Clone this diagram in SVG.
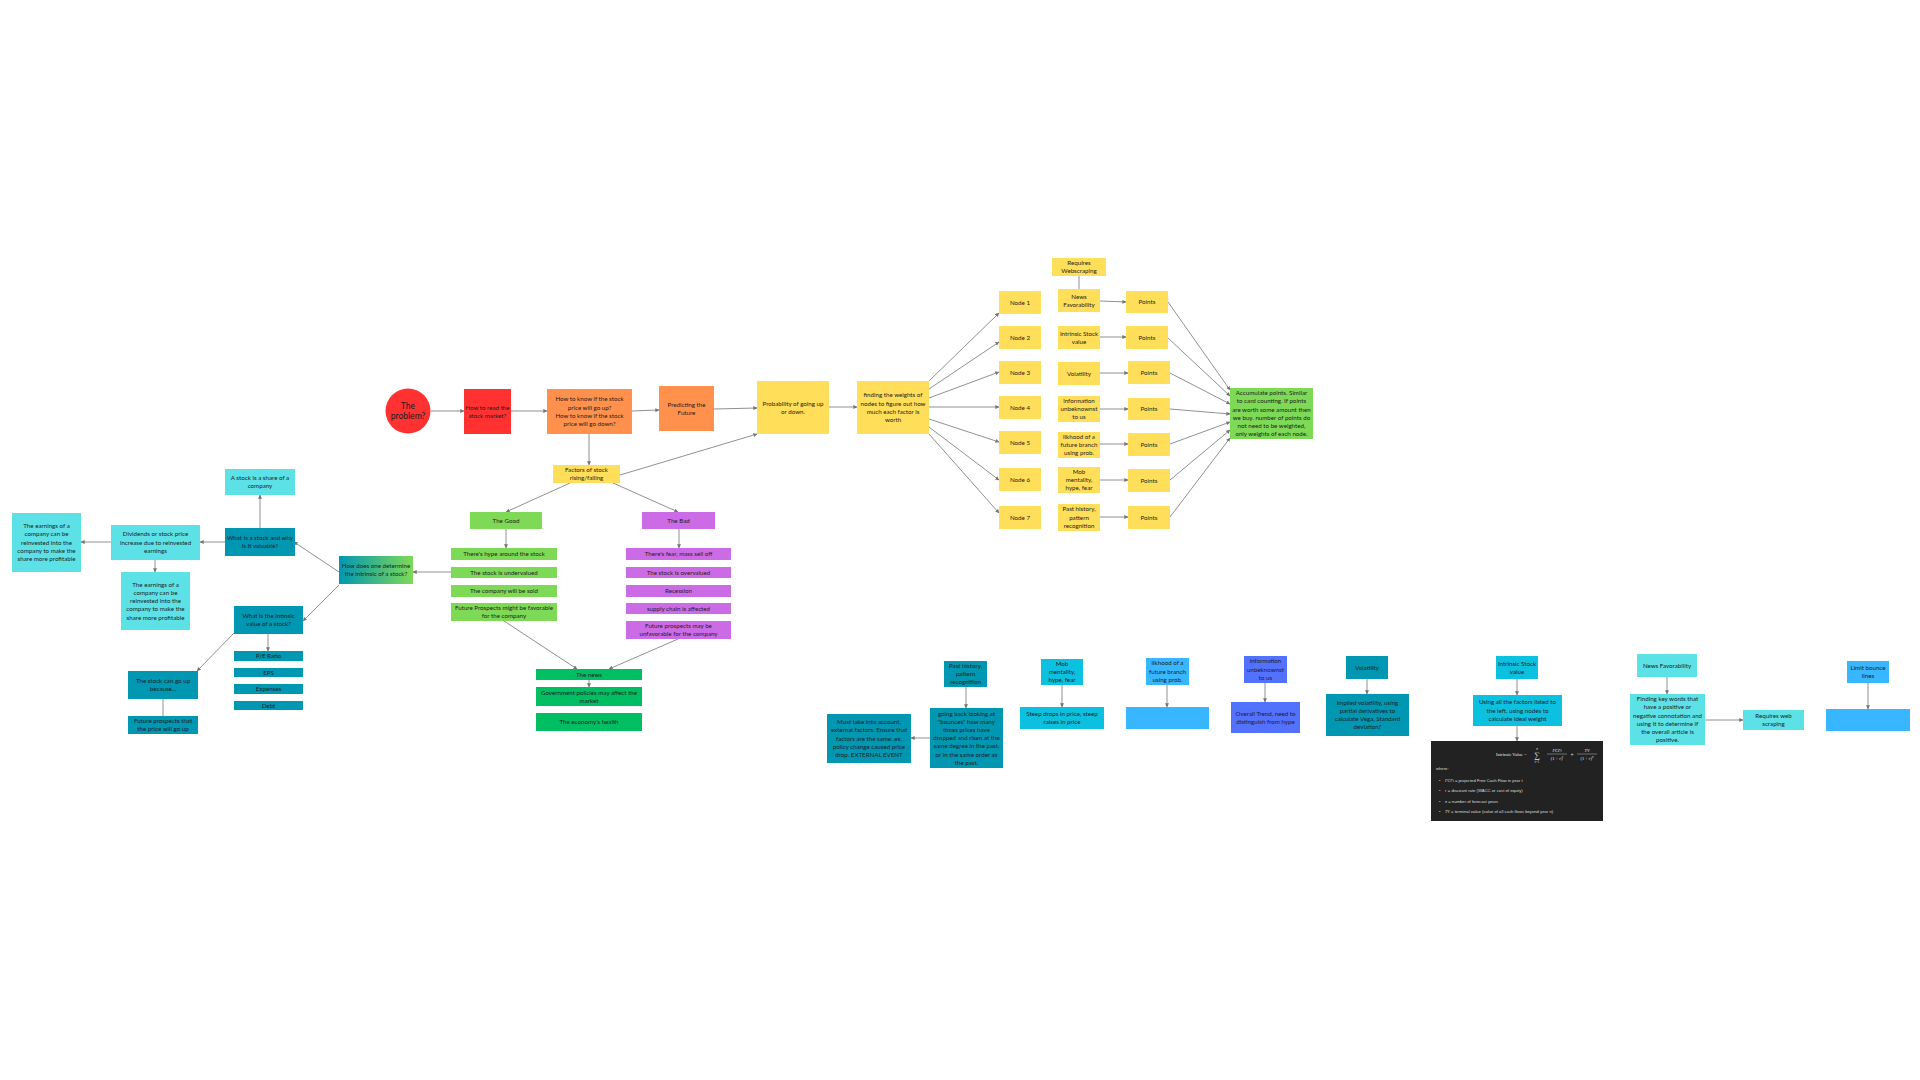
<svg xmlns="http://www.w3.org/2000/svg" width="1920" height="1080" viewBox="0 0 1920 1080">
<defs>
<style>
.t{font-family:Lato,"Open Sans","DejaVu Sans",sans-serif;font-size:6.2px;fill:#1d1d1d;text-anchor:middle}
.big{font-size:8.6px}
.c{stroke:#747474;stroke-width:0.8;fill:none}
.a{marker-end:url(#ah)}
.red{fill:#ff3131}.org{fill:#ff914d}.yel{fill:#ffde59}.grn{fill:#7ed957}.pur{fill:#cb6ce6}
.dg{fill:#00bf63}.lc{fill:#5ce1e6}.dt{fill:#0097b2}.cy{fill:#0cc0df}.bl{fill:#38b6ff}.ind{fill:#5271ff}
.m{font-family:"Liberation Serif","DejaVu Serif",serif;fill:#e6e6e6}
.w{font-family:"Liberation Sans",Arial,sans-serif;font-size:4.2px;fill:#dcdcdc}
</style>
<marker id="ah" viewBox="0 0 6 6" refX="5.5" refY="3" markerWidth="4" markerHeight="4" orient="auto" markerUnits="userSpaceOnUse">
<path d="M0,0 L6,3 L0,6 z" fill="#747474"/>
</marker>
<linearGradient id="gr" x1="0" y1="0" x2="1" y2="0">
<stop offset="0" stop-color="#0097b2"/><stop offset="1" stop-color="#7ed957"/>
</linearGradient>
</defs>
<rect width="1920" height="1080" fill="#ffffff"/>

<g id="connectors">
<line class="c a" x1="260" y1="528" x2="260" y2="495"/>
<line class="c a" x1="225" y1="542" x2="200" y2="542"/>
<line class="c a" x1="111" y1="542" x2="81" y2="542"/>
<line class="c a" x1="155" y1="560" x2="155" y2="572"/>
<line class="c a" x1="339" y1="572" x2="294" y2="542"/>
<line class="c a" x1="339" y1="585" x2="303" y2="621"/>
<line class="c a" x1="268" y1="634" x2="268" y2="651"/>
<line class="c a" x1="234" y1="633" x2="197" y2="671"/>
<line class="c" x1="163" y1="699" x2="163" y2="716" stroke-width="1.2"/>
<line class="c a" x1="451" y1="572" x2="413" y2="572"/>
<line class="c a" x1="589" y1="434" x2="589" y2="465"/>
<line class="c a" x1="570" y1="483" x2="506" y2="512"/>
<line class="c a" x1="613" y1="483" x2="678" y2="512"/>
<line class="c a" x1="506" y1="529" x2="506" y2="548"/>
<line class="c a" x1="679" y1="529" x2="679" y2="548"/>
<line class="c a" x1="504" y1="621" x2="577" y2="669"/>
<line class="c a" x1="678" y1="639" x2="609" y2="669"/>
<line class="c a" x1="589" y1="680" x2="589" y2="687"/>
<line class="c a" x1="620" y1="475" x2="757" y2="434"/>
<line class="c a" x1="431" y1="411" x2="464" y2="411"/>
<line class="c a" x1="511" y1="411" x2="547" y2="411"/>
<line class="c a" x1="632" y1="411" x2="659" y2="410"/>
<line class="c a" x1="714" y1="409" x2="757" y2="408"/>
<line class="c a" x1="829" y1="407" x2="857" y2="407"/>
<line class="c a" x1="929" y1="381" x2="999" y2="313"/>
<line class="c a" x1="929" y1="389" x2="999" y2="342"/>
<line class="c a" x1="929" y1="398" x2="999" y2="372"/>
<line class="c a" x1="929" y1="407" x2="999" y2="407"/>
<line class="c a" x1="929" y1="419" x2="999" y2="442"/>
<line class="c a" x1="929" y1="427" x2="999" y2="480"/>
<line class="c a" x1="929" y1="434" x2="999" y2="513"/>
<line class="c" x1="1079" y1="289" x2="1079" y2="276"/>
<line class="c a" x1="1100" y1="301" x2="1126" y2="302"/>
<line class="c a" x1="1100" y1="337" x2="1126" y2="337"/>
<line class="c a" x1="1100" y1="373" x2="1128" y2="373"/>
<line class="c a" x1="1100" y1="409" x2="1128" y2="409"/>
<line class="c a" x1="1100" y1="444" x2="1128" y2="444"/>
<line class="c a" x1="1100" y1="480" x2="1128" y2="480"/>
<line class="c a" x1="1100" y1="517" x2="1128" y2="517"/>
<line class="c a" x1="1168" y1="302" x2="1230" y2="390"/>
<line class="c a" x1="1168" y1="338" x2="1230" y2="396"/>
<line class="c a" x1="1170" y1="373" x2="1230" y2="404"/>
<line class="c a" x1="1170" y1="409" x2="1230" y2="414"/>
<line class="c a" x1="1170" y1="444" x2="1230" y2="422"/>
<line class="c a" x1="1170" y1="480" x2="1230" y2="430"/>
<line class="c a" x1="1170" y1="517" x2="1230" y2="438"/>
<line class="c a" x1="966" y1="687" x2="966" y2="708"/>
<line class="c a" x1="930" y1="738" x2="911" y2="738"/>
<line class="c a" x1="1062" y1="685" x2="1062" y2="707"/>
<line class="c a" x1="1167" y1="685" x2="1167" y2="707"/>
<line class="c a" x1="1265" y1="683" x2="1265" y2="702"/>
<line class="c a" x1="1367" y1="679" x2="1367" y2="694"/>
<line class="c a" x1="1517" y1="679" x2="1517" y2="695"/>
<line class="c a" x1="1517" y1="726" x2="1517" y2="741"/>
<line class="c a" x1="1667" y1="677" x2="1667" y2="694"/>
<line class="c a" x1="1705" y1="720" x2="1743" y2="720"/>
<line class="c a" x1="1868" y1="683" x2="1868" y2="709"/>
</g>

<!-- Left cluster -->
<g id="share"><rect class="lc" x="225" y="469" width="70" height="26"/><text class="t" y="480"><tspan x="260">A stock is a share of a</tspan><tspan x="260" dy="8.2">company</tspan></text></g>
<g id="whatstock"><rect class="dt" x="225" y="528" width="70" height="28"/><text class="t" y="540"><tspan x="260">What is a stock and why</tspan><tspan x="260" dy="8.2">is it valuable?</tspan></text></g>
<g id="dividends"><rect class="lc" x="111" y="525" width="89" height="35"/><text class="t" y="536.4"><tspan x="155.5">Dividends or stock price</tspan><tspan x="155.5" dy="8.2">increase due to reinvested</tspan><tspan x="155.5" dy="8.2">earnings</tspan></text></g>
<g id="earnings1"><rect class="lc" x="12" y="513" width="69" height="59"/><text class="t" y="528.2"><tspan x="46.5">The earnings of a</tspan><tspan x="46.5" dy="8.2">company can be</tspan><tspan x="46.5" dy="8.2">reinvested into the</tspan><tspan x="46.5" dy="8.2">company to make the</tspan><tspan x="46.5" dy="8.2">share more profitable</tspan></text></g>
<g id="earnings2"><rect class="lc" x="121" y="572" width="69" height="58"/><text class="t" y="586.7"><tspan x="155.5">The earnings of a</tspan><tspan x="155.5" dy="8.2">company can be</tspan><tspan x="155.5" dy="8.2">reinvested into the</tspan><tspan x="155.5" dy="8.2">company to make the</tspan><tspan x="155.5" dy="8.2">share more profitable</tspan></text></g>
<g id="howdoes"><rect x="339" y="556" width="74" height="28" fill="url(#gr)"/><text class="t" y="568"><tspan x="376">How does one determine</tspan><tspan x="376" dy="8.2">the intrinsic of a stock?</tspan></text></g>
<g id="whatintrinsic"><rect class="dt" x="234" y="606" width="69" height="28"/><text class="t" y="618"><tspan x="268.5">What is the intinsic</tspan><tspan x="268.5" dy="8.2">value of a stock?</tspan></text></g>
<g id="pe"><rect class="dt" x="234" y="651" width="69" height="10"/><text class="t" x="268.5" y="658.1">P/E Ratio</text></g>
<g id="eps"><rect class="dt" x="234" y="668" width="69" height="9"/><text class="t" x="268.5" y="674.6">EPS</text></g>
<g id="expenses"><rect class="dt" x="234" y="684" width="69" height="10"/><text class="t" x="268.5" y="691.1">Expenses</text></g>
<g id="debt"><rect class="dt" x="234" y="701" width="69" height="9"/><text class="t" x="268.5" y="707.6">Debt</text></g>
<g id="cangoup"><rect class="dt" x="128" y="671" width="70" height="28"/><text class="t" y="683"><tspan x="163">The stock can go up</tspan><tspan x="163" dy="8.2">because...</tspan></text></g>
<g id="futureup"><rect class="dt" x="128" y="716" width="70" height="18"/><text class="t" y="723"><tspan x="163">Future prospects that</tspan><tspan x="163" dy="8.2">the price will go up</tspan></text></g>

<!-- Top chain -->
<g id="problem"><circle class="red" cx="408" cy="411" r="22.5"/><text class="t big" y="409"><tspan x="408">The</tspan><tspan x="408" dy="10">problem?</tspan></text></g>
<g id="read"><rect class="red" x="464" y="389" width="47" height="45"/><text class="t" y="409.5"><tspan x="487.5">How to read the</tspan><tspan x="487.5" dy="8.2">stock market?</tspan></text></g>
<g id="howknow"><rect class="org" x="547" y="389" width="85" height="45"/><text class="t" y="401.3"><tspan x="589.5">How to know if the stock</tspan><tspan x="589.5" dy="8.2">price will go up?</tspan><tspan x="589.5" dy="8.2">How to know if the stock</tspan><tspan x="589.5" dy="8.2">price will go down?</tspan></text></g>
<g id="predicting"><rect class="org" x="659" y="386" width="55" height="45"/><text class="t" y="406.5"><tspan x="686.5">Predicting the</tspan><tspan x="686.5" dy="8.2">Future</tspan></text></g>
<g id="probability"><rect class="yel" x="757" y="381" width="72" height="53"/><text class="t" y="405.5"><tspan x="793">Probability of going up</tspan><tspan x="793" dy="8.2">or down.</tspan></text></g>
<g id="weights"><rect class="yel" x="857" y="381" width="72" height="53"/><text class="t" y="397.3"><tspan x="893">finding the weights of</tspan><tspan x="893" dy="8.2">nodes to figure out how</tspan><tspan x="893" dy="8.2">much each factor is</tspan><tspan x="893" dy="8.2">worth</tspan></text></g>
<g id="factors"><rect class="yel" x="553" y="465" width="67" height="18"/><text class="t" y="472"><tspan x="586.5">Factors of stock</tspan><tspan x="586.5" dy="8.2">rising/falling</tspan></text></g>
<g id="good"><rect class="grn" x="470" y="512" width="72" height="17"/><text class="t" x="506" y="522.6">The Good</text></g>
<g id="bad"><rect class="pur" x="642" y="512" width="73" height="17"/><text class="t" x="678.5" y="522.6">The Bad</text></g>
<g id="good1"><rect class="grn" x="451" y="548" width="106" height="12"/><text class="t" x="504" y="556.1">There's hype around the stock</text></g>
<g id="good2"><rect class="grn" x="451" y="567" width="106" height="11"/><text class="t" x="504" y="574.6">The stock is undervalued</text></g>
<g id="good3"><rect class="grn" x="451" y="585" width="106" height="12"/><text class="t" x="504" y="593.1">The company will be sold</text></g>
<g id="good4"><rect class="grn" x="451" y="603" width="106" height="18"/><text class="t" y="610"><tspan x="504">Future Prospects might be favorable</tspan><tspan x="504" dy="8.2">for the company</tspan></text></g>
<g id="bad1"><rect class="pur" x="626" y="548" width="105" height="12"/><text class="t" x="678.5" y="556.1">There's fear, mass sell off</text></g>
<g id="bad2"><rect class="pur" x="626" y="567" width="105" height="11"/><text class="t" x="678.5" y="574.6">The stock is overvalued</text></g>
<g id="bad3"><rect class="pur" x="626" y="585" width="105" height="12"/><text class="t" x="678.5" y="593.1">Recession</text></g>
<g id="bad4"><rect class="pur" x="626" y="603" width="105" height="11"/><text class="t" x="678.5" y="610.6">supply chain is affected</text></g>
<g id="bad5"><rect class="pur" x="626" y="621" width="105" height="18"/><text class="t" y="628"><tspan x="678.5">Future prospects may be</tspan><tspan x="678.5" dy="8.2">unfavorable for the company</tspan></text></g>
<g id="news"><rect class="dg" x="536" y="669" width="106" height="11"/><text class="t" x="589" y="676.6">The news</text></g>
<g id="gov"><rect class="dg" x="536" y="687" width="106" height="19"/><text class="t" y="694.5"><tspan x="589">Government policies may affect the</tspan><tspan x="589" dy="8.2">market</tspan></text></g>
<g id="economy"><rect class="dg" x="536" y="713" width="106" height="18"/><text class="t" x="589" y="724.1">The economy's health</text></g>

<!-- Nodes -->
<g id="node1"><rect class="yel" x="999" y="291" width="42" height="23"/><text class="t" x="1020" y="304.6">Node 1</text></g>
<g id="node2"><rect class="yel" x="999" y="326" width="42" height="23"/><text class="t" x="1020" y="339.6">Node 2</text></g>
<g id="node3"><rect class="yel" x="999" y="361" width="42" height="23"/><text class="t" x="1020" y="374.6">Node 3</text></g>
<g id="node4"><rect class="yel" x="999" y="396" width="42" height="23"/><text class="t" x="1020" y="409.6">Node 4</text></g>
<g id="node5"><rect class="yel" x="999" y="431" width="42" height="23"/><text class="t" x="1020" y="444.6">Node 5</text></g>
<g id="node6"><rect class="yel" x="999" y="468" width="42" height="23"/><text class="t" x="1020" y="481.6">Node 6</text></g>
<g id="node7"><rect class="yel" x="999" y="506" width="42" height="23"/><text class="t" x="1020" y="519.6">Node 7</text></g>

<g id="webscraping"><rect class="yel" x="1052" y="258" width="54" height="18"/><text class="t" y="265"><tspan x="1079">Requires</tspan><tspan x="1079" dy="8.2">Webscraping</tspan></text></g>
<g id="f-news"><rect class="yel" x="1058" y="289" width="42" height="23"/><text class="t" y="298.5"><tspan x="1079">News</tspan><tspan x="1079" dy="8.2">Favorability</tspan></text></g>
<g id="f-intrinsic"><rect class="yel" x="1058" y="326" width="42" height="23"/><text class="t" y="335.5"><tspan x="1079">Intrinsic Stock</tspan><tspan x="1079" dy="8.2">value</tspan></text></g>
<g id="f-volatility"><rect class="yel" x="1058" y="362" width="42" height="23"/><text class="t" x="1079" y="375.6">Volatility</text></g>
<g id="f-info"><rect class="yel" x="1058" y="396" width="42" height="26"/><text class="t" y="402.9"><tspan x="1079">information</tspan><tspan x="1079" dy="8.2">unbeknownst</tspan><tspan x="1079" dy="8.2">to us</tspan></text></g>
<g id="f-likhood"><rect class="yel" x="1058" y="432" width="42" height="26"/><text class="t" y="438.9"><tspan x="1079">likhood of a</tspan><tspan x="1079" dy="8.2">future branch</tspan><tspan x="1079" dy="8.2">using prob.</tspan></text></g>
<g id="f-mob"><rect class="yel" x="1058" y="467" width="42" height="26"/><text class="t" y="473.9"><tspan x="1079">Mob</tspan><tspan x="1079" dy="8.2">mentality,</tspan><tspan x="1079" dy="8.2">hype, fear</tspan></text></g>
<g id="f-past"><rect class="yel" x="1058" y="504" width="42" height="27"/><text class="t" y="511.4"><tspan x="1079">Past history,</tspan><tspan x="1079" dy="8.2">pattern</tspan><tspan x="1079" dy="8.2">recognition</tspan></text></g>

<g id="points1"><rect class="yel" x="1126" y="291" width="42" height="22"/><text class="t" x="1147" y="304.1">Points</text></g>
<g id="points2"><rect class="yel" x="1126" y="326" width="42" height="23"/><text class="t" x="1147" y="339.6">Points</text></g>
<g id="points3"><rect class="yel" x="1128" y="361" width="42" height="23"/><text class="t" x="1149" y="374.6">Points</text></g>
<g id="points4"><rect class="yel" x="1128" y="398" width="42" height="22"/><text class="t" x="1149" y="411.1">Points</text></g>
<g id="points5"><rect class="yel" x="1128" y="433" width="42" height="23"/><text class="t" x="1149" y="446.6">Points</text></g>
<g id="points6"><rect class="yel" x="1128" y="469" width="42" height="23"/><text class="t" x="1149" y="482.6">Points</text></g>
<g id="points7"><rect class="yel" x="1128" y="506" width="42" height="23"/><text class="t" x="1149" y="519.6">Points</text></g>

<g id="accumulate"><rect class="grn" x="1230" y="388" width="83" height="51"/><text class="t" y="395.1"><tspan x="1271.5">Accumulate points. Similar</tspan><tspan x="1271.5" dy="8.2">to card counting. If points</tspan><tspan x="1271.5" dy="8.2">are worth some amount then</tspan><tspan x="1271.5" dy="8.2">we buy. number of points do</tspan><tspan x="1271.5" dy="8.2">not need to be weighted,</tspan><tspan x="1271.5" dy="8.2">only weights of each node.</tspan></text></g>

<!-- Bottom row -->
<g id="b-past"><rect class="dt" x="944" y="661" width="43" height="26"/><text class="t" y="667.9"><tspan x="965.5">Past history,</tspan><tspan x="965.5" dy="8.2">pattern</tspan><tspan x="965.5" dy="8.2">recognition</tspan></text></g>
<g id="b-goingback"><rect class="dt" x="930" y="708" width="73" height="60"/><text class="t" y="715.5"><tspan x="966.5">going back looking at</tspan><tspan x="966.5" dy="8.2">"bounces" how many</tspan><tspan x="966.5" dy="8.2">times prices have</tspan><tspan x="966.5" dy="8.2">dropped and risen at the</tspan><tspan x="966.5" dy="8.2">same degree in the past,</tspan><tspan x="966.5" dy="8.2">or in the same order as</tspan><tspan x="966.5" dy="8.2">the past.</tspan></text></g>
<g id="b-musttake"><rect class="dt" x="827" y="714" width="84" height="49"/><text class="t" y="724.2"><tspan x="869">Must take into account,</tspan><tspan x="869" dy="8.2">external factors. Ensure that</tspan><tspan x="869" dy="8.2">factors are the same. ex.</tspan><tspan x="869" dy="8.2">policy change caused price</tspan><tspan x="869" dy="8.2">drop. EXTERNAL EVENT</tspan></text></g>
<g id="b-mob"><rect class="cy" x="1041" y="659" width="42" height="26"/><text class="t" y="665.9"><tspan x="1062">Mob</tspan><tspan x="1062" dy="8.2">mentality,</tspan><tspan x="1062" dy="8.2">hype, fear</tspan></text></g>
<g id="b-steep"><rect class="cy" x="1020" y="707" width="84" height="22"/><text class="t" y="716"><tspan x="1062">Steep drops in price, steep</tspan><tspan x="1062" dy="8.2">raises in price</tspan></text></g>
<g id="b-likhood"><rect class="bl" x="1146" y="658" width="43" height="27"/><text class="t" y="665.4"><tspan x="1167.5">likhood of a</tspan><tspan x="1167.5" dy="8.2">future branch</tspan><tspan x="1167.5" dy="8.2">using prob.</tspan></text></g>
<g id="b-empty1"><rect class="bl" x="1126" y="707" width="83" height="22"/></g>
<g id="b-info"><rect class="ind" x="1244" y="656" width="43" height="27"/><text class="t" y="663.4"><tspan x="1265.5">information</tspan><tspan x="1265.5" dy="8.2">unbeknownst</tspan><tspan x="1265.5" dy="8.2">to us</tspan></text></g>
<g id="b-overall"><rect class="ind" x="1231" y="702" width="69" height="31"/><text class="t" y="715.5"><tspan x="1265.5">Overall Trend, need to</tspan><tspan x="1265.5" dy="8.2">distinguish from hype</tspan></text></g>
<g id="b-volatility"><rect class="dt" x="1346" y="656" width="42" height="23"/><text class="t" x="1367" y="669.6">Volatility</text></g>
<g id="b-implied"><rect class="dt" x="1326" y="694" width="83" height="42"/><text class="t" y="704.8"><tspan x="1367.5">Implied volatility, using</tspan><tspan x="1367.5" dy="8.2">partial derivatives to</tspan><tspan x="1367.5" dy="8.2">calculate Vega, Standard</tspan><tspan x="1367.5" dy="8.2">deviation?</tspan></text></g>
<g id="b-intrinsic"><rect class="cy" x="1496" y="656" width="42" height="23"/><text class="t" y="665.5"><tspan x="1517">Intrinsic Stock</tspan><tspan x="1517" dy="8.2">value</tspan></text></g>
<g id="b-using"><rect class="cy" x="1473" y="695" width="89" height="31"/><text class="t" y="704.4"><tspan x="1517.5">Using all the factors listed to</tspan><tspan x="1517.5" dy="8.2">the left, using nodes to</tspan><tspan x="1517.5" dy="8.2">calculate ideal weight</tspan></text></g>
<g id="b-formula">
<rect x="1431" y="741" width="172" height="80" fill="#222222"/>
<text class="m" x="1496" y="756" font-size="4.6">Intrinsic Value =</text>
<text class="m" x="1537" y="758" font-size="8" text-anchor="middle">∑</text>
<text class="m" x="1537" y="749.5" font-size="3.2" text-anchor="middle" font-style="italic">n</text>
<text class="m" x="1537" y="763" font-size="3.2" text-anchor="middle">t=1</text>
<text class="m" x="1557" y="752" font-size="4.4" text-anchor="middle" font-style="italic">FCF<tspan font-size="3" font-style="italic">t</tspan></text>
<line x1="1547" y1="754" x2="1567" y2="754" stroke="#e6e6e6" stroke-width="0.4"/>
<text class="m" x="1557" y="759.5" font-size="4.4" text-anchor="middle">(1 + <tspan font-style="italic">r</tspan>)<tspan font-size="3" dy="-1.8" font-style="italic">t</tspan></text>
<text class="m" x="1572" y="756.5" font-size="5.5" text-anchor="middle">+</text>
<text class="m" x="1587" y="752" font-size="4.4" text-anchor="middle" font-style="italic">TV</text>
<line x1="1577" y1="754" x2="1597" y2="754" stroke="#e6e6e6" stroke-width="0.4"/>
<text class="m" x="1587" y="759.5" font-size="4.4" text-anchor="middle">(1 + <tspan font-style="italic">r</tspan>)<tspan font-size="3" dy="-1.8" font-style="italic">n</tspan></text>
<text class="w" x="1436" y="770">where:</text>
<text class="w" x="1439" y="782">•</text><text class="w" x="1445" y="782"><tspan font-style="italic" font-family="Liberation Serif,serif">FCF</tspan><tspan font-size="3" font-style="italic">t</tspan> = projected Free Cash Flow in year t</text>
<text class="w" x="1439" y="792">•</text><text class="w" x="1445" y="792"><tspan font-style="italic" font-family="Liberation Serif,serif">r</tspan> = discount rate (WACC or cost of equity)</text>
<text class="w" x="1439" y="803">•</text><text class="w" x="1445" y="803"><tspan font-style="italic" font-family="Liberation Serif,serif">n</tspan> = number of forecast years</text>
<text class="w" x="1439" y="813">•</text><text class="w" x="1445" y="813"><tspan font-style="italic" font-family="Liberation Serif,serif">TV</tspan> = terminal value (value of all cash flows beyond year n)</text>
</g>
<g id="b-newsfav"><rect class="lc" x="1637" y="654" width="60" height="23"/><text class="t" x="1667" y="667.6">News Favorability</text></g>
<g id="b-finding"><rect class="lc" x="1630" y="694" width="75" height="51"/><text class="t" y="701.1"><tspan x="1667.5">Finding key words that</tspan><tspan x="1667.5" dy="8.2">have a positive or</tspan><tspan x="1667.5" dy="8.2">negative connotation and</tspan><tspan x="1667.5" dy="8.2">using it to determine if</tspan><tspan x="1667.5" dy="8.2">the overall article is</tspan><tspan x="1667.5" dy="8.2">positive.</tspan></text></g>
<g id="b-reqweb"><rect class="lc" x="1743" y="710" width="61" height="20"/><text class="t" y="718"><tspan x="1773.5">Requires web</tspan><tspan x="1773.5" dy="8.2">scraping</tspan></text></g>
<g id="b-limit"><rect class="bl" x="1847" y="661" width="42" height="22"/><text class="t" y="670"><tspan x="1868">Limit bounce</tspan><tspan x="1868" dy="8.2">lines</tspan></text></g>
<g id="b-empty2"><rect class="bl" x="1826" y="709" width="84" height="22"/></g>
</svg>
